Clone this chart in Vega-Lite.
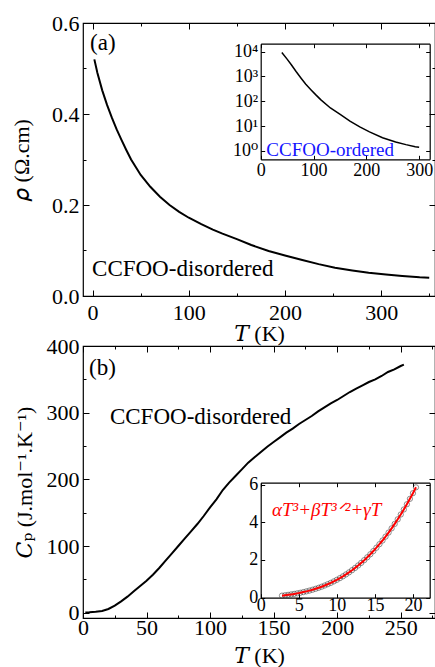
{
  "$schema": "https://vega.github.io/schema/vega-lite/v6.json",
  "padding": {"left": 9, "top": 11, "right": 0, "bottom": 0},
  "autosize": {"type": "pad"},
  "config": {
    "font": "Liberation Serif, DejaVu Serif",
    "view": {"stroke": "black", "strokeWidth": 1.2},
    "axis": {
      "grid": false,
      "labelFont": "Liberation Serif, DejaVu Serif",
      "titleFont": "Liberation Serif, DejaVu Serif",
      "labelFontSize": 22,
      "titleFontSize": 22,
      "titleFontWeight": "normal",
      "labelColor": "black",
      "titleColor": "black",
      "tickColor": "black",
      "domainColor": "black",
      "tickWidth": 1,
      "domainWidth": 1.2,
      "labelFlush": false,
      "labelOverlap": false
    },
    "text": {"font": "Liberation Serif, DejaVu Serif"}
  },
  "datasets": {
    "rhoDisordered": [
      {"T": 1.8, "rho": 0.52}, {"T": 5, "rho": 0.49}, {"T": 10, "rho": 0.452}, {"T": 15, "rho": 0.42},
      {"T": 20, "rho": 0.392}, {"T": 25, "rho": 0.366}, {"T": 30, "rho": 0.343}, {"T": 35, "rho": 0.321},
      {"T": 40, "rho": 0.3}, {"T": 50, "rho": 0.266}, {"T": 60, "rho": 0.24}, {"T": 70, "rho": 0.218},
      {"T": 80, "rho": 0.2}, {"T": 90, "rho": 0.185}, {"T": 100, "rho": 0.172}, {"T": 113, "rho": 0.158},
      {"T": 125, "rho": 0.146}, {"T": 135, "rho": 0.137}, {"T": 150, "rho": 0.125}, {"T": 165, "rho": 0.112},
      {"T": 183, "rho": 0.099}, {"T": 200, "rho": 0.089}, {"T": 218, "rho": 0.079}, {"T": 235, "rho": 0.07},
      {"T": 252, "rho": 0.062}, {"T": 270, "rho": 0.056}, {"T": 287, "rho": 0.051}, {"T": 305, "rho": 0.047},
      {"T": 322, "rho": 0.044}, {"T": 340, "rho": 0.041}, {"T": 350, "rho": 0.04}
    ],
    "rhoOrdered": [
      {"T": 40, "rho": 9300}, {"T": 50, "rho": 5000}, {"T": 58, "rho": 2950}, {"T": 67, "rho": 1580},
      {"T": 76.5, "rho": 850}, {"T": 85, "rho": 500}, {"T": 95, "rho": 295}, {"T": 104, "rho": 186},
      {"T": 113.5, "rho": 117}, {"T": 132, "rho": 54}, {"T": 150.5, "rho": 29.5}, {"T": 169, "rho": 15.8},
      {"T": 187.6, "rho": 9.3}, {"T": 206, "rho": 5.9}, {"T": 230.7, "rho": 3.4}, {"T": 255.5, "rho": 2.3},
      {"T": 275, "rho": 1.8}, {"T": 292.6, "rho": 1.48}, {"T": 300, "rho": 1.41}
    ],
    "cpDisordered": [
      {"T": 1.8, "Cp": 0.3}, {"T": 5, "Cp": 0.6}, {"T": 10, "Cp": 1.3}, {"T": 15, "Cp": 2.6},
      {"T": 20, "Cp": 5.5}, {"T": 25, "Cp": 10.5}, {"T": 30, "Cp": 17}, {"T": 35, "Cp": 24},
      {"T": 40, "Cp": 32}, {"T": 45, "Cp": 40}, {"T": 50, "Cp": 48}, {"T": 55, "Cp": 57},
      {"T": 60, "Cp": 67}, {"T": 65, "Cp": 78}, {"T": 70, "Cp": 89}, {"T": 75, "Cp": 100},
      {"T": 80, "Cp": 111}, {"T": 85, "Cp": 122}, {"T": 90, "Cp": 133}, {"T": 95, "Cp": 145},
      {"T": 100, "Cp": 158}, {"T": 105, "Cp": 170}, {"T": 110, "Cp": 184}, {"T": 115, "Cp": 195},
      {"T": 120, "Cp": 205}, {"T": 125, "Cp": 215}, {"T": 130, "Cp": 225}, {"T": 135, "Cp": 233},
      {"T": 140, "Cp": 241}, {"T": 145, "Cp": 249}, {"T": 150, "Cp": 256}, {"T": 155, "Cp": 263},
      {"T": 160, "Cp": 270}, {"T": 165, "Cp": 276}, {"T": 170, "Cp": 283}, {"T": 175, "Cp": 289},
      {"T": 180, "Cp": 295}, {"T": 185, "Cp": 302}, {"T": 190, "Cp": 308}, {"T": 195, "Cp": 314},
      {"T": 200, "Cp": 319}, {"T": 205, "Cp": 325}, {"T": 210, "Cp": 331}, {"T": 215, "Cp": 336},
      {"T": 220, "Cp": 341}, {"T": 225, "Cp": 346}, {"T": 230, "Cp": 350}, {"T": 235, "Cp": 355},
      {"T": 240, "Cp": 361}, {"T": 245, "Cp": 365}, {"T": 250, "Cp": 370}, {"T": 252.5, "Cp": 372}
    ],
    "cpLowT": [
      {"T": 2.8, "Cp": 0.109}, {"T": 3.2, "Cp": 0.129}, {"T": 3.6, "Cp": 0.151}, {"T": 4.0, "Cp": 0.175},
      {"T": 4.4, "Cp": 0.201}, {"T": 4.8, "Cp": 0.23}, {"T": 5.2, "Cp": 0.262}, {"T": 5.6, "Cp": 0.297},
      {"T": 6.0, "Cp": 0.335}, {"T": 6.4, "Cp": 0.377}, {"T": 6.8, "Cp": 0.422}, {"T": 7.2, "Cp": 0.472},
      {"T": 7.6, "Cp": 0.525}, {"T": 8.0, "Cp": 0.583}, {"T": 8.4, "Cp": 0.646}, {"T": 8.8, "Cp": 0.714},
      {"T": 9.2, "Cp": 0.786}, {"T": 9.6, "Cp": 0.864}, {"T": 10.0, "Cp": 0.948}, {"T": 10.4, "Cp": 1.038},
      {"T": 10.8, "Cp": 1.133}, {"T": 11.2, "Cp": 1.235}, {"T": 11.6, "Cp": 1.343}, {"T": 12.0, "Cp": 1.459},
      {"T": 12.4, "Cp": 1.581}, {"T": 12.8, "Cp": 1.71}, {"T": 13.2, "Cp": 1.847}, {"T": 13.6, "Cp": 1.992},
      {"T": 14.0, "Cp": 2.144}, {"T": 14.4, "Cp": 2.305}, {"T": 14.8, "Cp": 2.474}, {"T": 15.2, "Cp": 2.652},
      {"T": 15.6, "Cp": 2.839}, {"T": 16.0, "Cp": 3.034}, {"T": 16.4, "Cp": 3.239}, {"T": 16.8, "Cp": 3.454},
      {"T": 17.2, "Cp": 3.679}, {"T": 17.6, "Cp": 3.913}, {"T": 18.0, "Cp": 4.158}, {"T": 18.4, "Cp": 4.413},
      {"T": 18.8, "Cp": 4.679}, {"T": 19.2, "Cp": 4.956}, {"T": 19.6, "Cp": 5.244}, {"T": 20.0, "Cp": 5.544},
      {"T": 20.4, "Cp": 5.855}
    ],
    "labelsA": [
      {"T": -2.7, "rho": 0.5407, "label": "(a)"},
      {"T": -0.6, "rho": 0.044, "label": "CCFOO-disordered"}
    ],
    "labelsAInset": [
      {"T": 10.6, "rho": 0.62, "label": "CCFOO-ordered"}
    ],
    "labelsB": [
      {"T": 4.7, "Cp": 356.5, "label": "(b)"},
      {"T": 21.2, "Cp": 282.5, "label": "CCFOO-disordered"}
    ],
    "labelsBInset": [
      {"T": 1.48, "Cp": 4.33, "label": "αT³+βT³ᐟ²+γT"}
    ]
  },
  "spacing": 50,
  "bounds": "flush",
  "vconcat": [
    {
      "width": 352,
      "height": 273,
      "resolve": {"scale": {"x": "independent", "y": "independent"}, "axis": {"x": "independent", "y": "independent"}},
      "layer": [
        {
          "resolve": {"axis": {"x": "independent", "y": "independent"}},
          "layer": [
            {
              "data": {"name": "rhoDisordered"},
              "mark": {"type": "line", "color": "black", "strokeWidth": 2},
              "encoding": {
                "x": {"field": "T", "type": "quantitative",
                  "scale": {"domain": [-10, 356], "nice": false, "zero": false},
                  "axis": {"orient": "bottom", "values": [0, 100, 200, 300], "tickSize": -6, "labelPadding": 12, "domain": false, "title": "𝑇 (K)", "titlePadding": 0}},
                "y": {"field": "rho", "type": "quantitative",
                  "scale": {"domain": [0, 0.6], "nice": false, "zero": false},
                  "axis": {"orient": "left", "values": [0, 0.2, 0.4, 0.6], "format": ".1f", "tickSize": -6, "labelPadding": 10, "domain": false, "title": "𝜌 (Ω.cm)", "titlePadding": 18}}
              }
            },
            {
              "data": {"name": "rhoDisordered"},
              "mark": {"type": "line", "strokeOpacity": 0},
              "encoding": {
                "x": {"field": "T", "type": "quantitative",
                  "scale": {"domain": [-10, 356], "nice": false, "zero": false},
                  "axis": {"orient": "top", "values": [0, 100, 200, 300], "tickSize": -6, "labels": false, "domain": false, "title": null}},
                "y": {"field": "rho", "type": "quantitative",
                  "scale": {"domain": [0, 0.6], "nice": false, "zero": false},
                  "axis": {"orient": "right", "values": [0, 0.2, 0.4, 0.6], "tickSize": -6, "labels": false, "domain": false, "title": null}}
              }
            },
            {
              "data": {"name": "rhoDisordered"},
              "mark": {"type": "line", "strokeOpacity": 0},
              "encoding": {
                "x": {"field": "T", "type": "quantitative",
                  "scale": {"domain": [-10, 356], "nice": false, "zero": false},
                  "axis": {"orient": "bottom", "values": [50, 150, 250, 350], "tickSize": -3, "labels": false, "domain": false, "title": null}},
                "y": {"field": "rho", "type": "quantitative",
                  "scale": {"domain": [0, 0.6], "nice": false, "zero": false},
                  "axis": {"orient": "left", "values": [0.1, 0.3, 0.5], "tickSize": -3, "labels": false, "domain": false, "title": null}}
              }
            },
            {
              "data": {"name": "rhoDisordered"},
              "mark": {"type": "line", "strokeOpacity": 0},
              "encoding": {
                "x": {"field": "T", "type": "quantitative",
                  "scale": {"domain": [-10, 356], "nice": false, "zero": false},
                  "axis": {"orient": "top", "values": [50, 150, 250, 350], "tickSize": -3, "labels": false, "domain": false, "title": null}},
                "y": {"field": "rho", "type": "quantitative",
                  "scale": {"domain": [0, 0.6], "nice": false, "zero": false},
                  "axis": {"orient": "right", "values": [0.1, 0.3, 0.5], "tickSize": -3, "labels": false, "domain": false, "title": null}}
              }
            },
            {
              "data": {"name": "labelsA"},
              "mark": {"type": "text", "align": "left", "baseline": "alphabetic", "fontSize": 23, "color": "black"},
              "encoding": {
                "x": {"field": "T", "type": "quantitative", "scale": {"domain": [-10, 356], "nice": false, "zero": false}, "axis": null},
                "y": {"field": "rho", "type": "quantitative", "scale": {"domain": [0, 0.6], "nice": false, "zero": false}, "axis": null},
                "text": {"field": "label"}
              }
            }
          ]
        },
        {
          "resolve": {"axis": {"x": "independent", "y": "independent"}},
          "layer": [
            {
              "data": {"name": "rhoOrdered"},
              "mark": {"type": "line", "color": "black", "strokeWidth": 1.5},
              "encoding": {
                "x": {"field": "T", "type": "quantitative",
                  "scale": {"domain": [0, 320], "range": [177.7, 346.7], "nice": false, "zero": false},
                  "axis": {"orient": "bottom", "offset": -136.7, "values": [0, 100, 200, 300], "tickSize": -4, "labelPadding": 6, "labelFontSize": 18, "domain": true, "title": null}},
                "y": {"field": "rho", "type": "quantitative",
                  "scale": {"type": "log", "domain": [0.462, 20900], "range": [136.3, 20.7], "nice": false},
                  "axis": {"orient": "left", "offset": -177.7, "values": [1, 10, 100, 1000, 10000], "tickSize": -4, "labelPadding": 7, "labelFontSize": 18, "domain": true, "title": null,
                    "labelExpr": "datum.value < 5 ? '10⁰' : datum.value < 50 ? '10¹' : datum.value < 500 ? '10²' : datum.value < 5000 ? '10³' : '10⁴'"}}
              }
            },
            {
              "data": {"name": "rhoOrdered"},
              "mark": {"type": "line", "strokeOpacity": 0},
              "encoding": {
                "x": {"field": "T", "type": "quantitative",
                  "scale": {"domain": [0, 320], "range": [177.7, 346.7], "nice": false, "zero": false},
                  "axis": {"orient": "top", "offset": -20.7, "values": [0, 100, 200, 300], "tickSize": -4, "labels": false, "domain": true, "title": null}},
                "y": {"field": "rho", "type": "quantitative",
                  "scale": {"type": "log", "domain": [0.462, 20900], "range": [136.3, 20.7], "nice": false},
                  "axis": {"orient": "right", "offset": -5.3, "values": [1, 10, 100, 1000, 10000], "tickSize": -4, "labels": false, "domain": true, "title": null}}
              }
            },
            {
              "data": {"name": "labelsAInset"},
              "mark": {"type": "text", "align": "left", "baseline": "alphabetic", "fontSize": 19, "color": "#1414ff"},
              "encoding": {
                "x": {"field": "T", "type": "quantitative", "scale": {"domain": [0, 320], "range": [177.7, 346.7], "nice": false, "zero": false}, "axis": null},
                "y": {"field": "rho", "type": "quantitative", "scale": {"type": "log", "domain": [0.462, 20900], "range": [136.3, 20.7], "nice": false}, "axis": null},
                "text": {"field": "label"}
              }
            }
          ]
        }
      ]
    },
    {
      "width": 352,
      "height": 272,
      "resolve": {"scale": {"x": "independent", "y": "independent"}, "axis": {"x": "independent", "y": "independent"}},
      "layer": [
        {
          "resolve": {"axis": {"x": "independent", "y": "independent"}},
          "layer": [
            {
              "data": {"name": "cpDisordered"},
              "mark": {"type": "line", "color": "black", "strokeWidth": 2},
              "encoding": {
                "x": {"field": "T", "type": "quantitative",
                  "scale": {"domain": [0, 277], "nice": false, "zero": false},
                  "axis": {"orient": "bottom", "values": [0, 50, 100, 150, 200, 250], "tickSize": -6, "labelPadding": 5, "domain": false, "title": "𝑇 (K)", "titlePadding": 7}},
                "y": {"field": "Cp", "type": "quantitative",
                  "scale": {"domain": [-8, 400], "nice": false, "zero": false},
                  "axis": {"orient": "left", "values": [0, 100, 200, 300, 400], "tickSize": -6, "labelPadding": 10, "domain": false, "title": "𝐶ₚ (J.mol⁻¹.K⁻¹)", "titlePadding": 10}}
              }
            },
            {
              "data": {"name": "cpDisordered"},
              "mark": {"type": "line", "strokeOpacity": 0},
              "encoding": {
                "x": {"field": "T", "type": "quantitative",
                  "scale": {"domain": [0, 277], "nice": false, "zero": false},
                  "axis": {"orient": "top", "values": [0, 50, 100, 150, 200, 250], "tickSize": -6, "labels": false, "domain": false, "title": null}},
                "y": {"field": "Cp", "type": "quantitative",
                  "scale": {"domain": [-8, 400], "nice": false, "zero": false},
                  "axis": {"orient": "right", "values": [0, 100, 200, 300, 400], "tickSize": -6, "labels": false, "domain": false, "title": null}}
              }
            },
            {
              "data": {"name": "cpDisordered"},
              "mark": {"type": "line", "strokeOpacity": 0},
              "encoding": {
                "x": {"field": "T", "type": "quantitative",
                  "scale": {"domain": [0, 277], "nice": false, "zero": false},
                  "axis": {"orient": "bottom", "values": [25, 75, 125, 175, 225, 275], "tickSize": -3, "labels": false, "domain": false, "title": null}},
                "y": {"field": "Cp", "type": "quantitative",
                  "scale": {"domain": [-8, 400], "nice": false, "zero": false},
                  "axis": {"orient": "left", "values": [50, 150, 250, 350], "tickSize": -3, "labels": false, "domain": false, "title": null}}
              }
            },
            {
              "data": {"name": "cpDisordered"},
              "mark": {"type": "line", "strokeOpacity": 0},
              "encoding": {
                "x": {"field": "T", "type": "quantitative",
                  "scale": {"domain": [0, 277], "nice": false, "zero": false},
                  "axis": {"orient": "top", "values": [25, 75, 125, 175, 225, 275], "tickSize": -3, "labels": false, "domain": false, "title": null}},
                "y": {"field": "Cp", "type": "quantitative",
                  "scale": {"domain": [-8, 400], "nice": false, "zero": false},
                  "axis": {"orient": "right", "values": [50, 150, 250, 350], "tickSize": -3, "labels": false, "domain": false, "title": null}}
              }
            },
            {
              "data": {"name": "labelsB"},
              "mark": {"type": "text", "align": "left", "baseline": "alphabetic", "fontSize": 23, "color": "black"},
              "encoding": {
                "x": {"field": "T", "type": "quantitative", "scale": {"domain": [0, 277], "nice": false, "zero": false}, "axis": null},
                "y": {"field": "Cp", "type": "quantitative", "scale": {"domain": [-8, 400], "nice": false, "zero": false}, "axis": null},
                "text": {"field": "label"}
              }
            }
          ]
        },
        {
          "resolve": {"axis": {"x": "independent", "y": "independent"}},
          "layer": [
            {
              "data": {"name": "cpLowT"},
              "mark": {"type": "point", "shape": "circle", "filled": false, "size": 28, "stroke": "#333333", "strokeWidth": 0.8},
              "encoding": {
                "x": {"field": "T", "type": "quantitative",
                  "scale": {"domain": [0, 22.2], "range": [177.7, 346.7], "nice": false, "zero": false},
                  "axis": {"orient": "bottom", "offset": -20.3, "values": [0, 5, 10, 15, 20], "tickSize": -4, "labelPadding": 3, "labelFontSize": 18, "domain": true, "title": null}},
                "y": {"field": "Cp", "type": "quantitative",
                  "scale": {"domain": [0, 6.1], "range": [251.7, 136.7], "nice": false, "zero": false},
                  "axis": {"orient": "left", "offset": -177.7, "values": [0, 2, 4, 6], "tickSize": -4, "labelPadding": 7, "labelFontSize": 18, "domain": true, "title": null}}
              }
            },
            {
              "data": {"name": "cpLowT"},
              "mark": {"type": "line", "color": "#ff0000", "strokeWidth": 2},
              "encoding": {
                "x": {"field": "T", "type": "quantitative",
                  "scale": {"domain": [0, 22.2], "range": [177.7, 346.7], "nice": false, "zero": false},
                  "axis": {"orient": "top", "offset": -136.7, "values": [0, 5, 10, 15, 20], "tickSize": -4, "labels": false, "domain": true, "title": null}},
                "y": {"field": "Cp", "type": "quantitative",
                  "scale": {"domain": [0, 6.1], "range": [251.7, 136.7], "nice": false, "zero": false},
                  "axis": {"orient": "right", "offset": -5.3, "values": [0, 2, 4, 6], "tickSize": -4, "labels": false, "domain": true, "title": null}}
              }
            },
            {
              "data": {"name": "labelsBInset"},
              "mark": {"type": "text", "align": "left", "baseline": "alphabetic", "fontSize": 19, "fontStyle": "italic", "color": "#ff0000"},
              "encoding": {
                "x": {"field": "T", "type": "quantitative", "scale": {"domain": [0, 22.2], "range": [177.7, 346.7], "nice": false, "zero": false}, "axis": null},
                "y": {"field": "Cp", "type": "quantitative", "scale": {"domain": [0, 6.1], "range": [251.7, 136.7], "nice": false, "zero": false}, "axis": null},
                "text": {"field": "label"}
              }
            }
          ]
        }
      ]
    }
  ]
}
